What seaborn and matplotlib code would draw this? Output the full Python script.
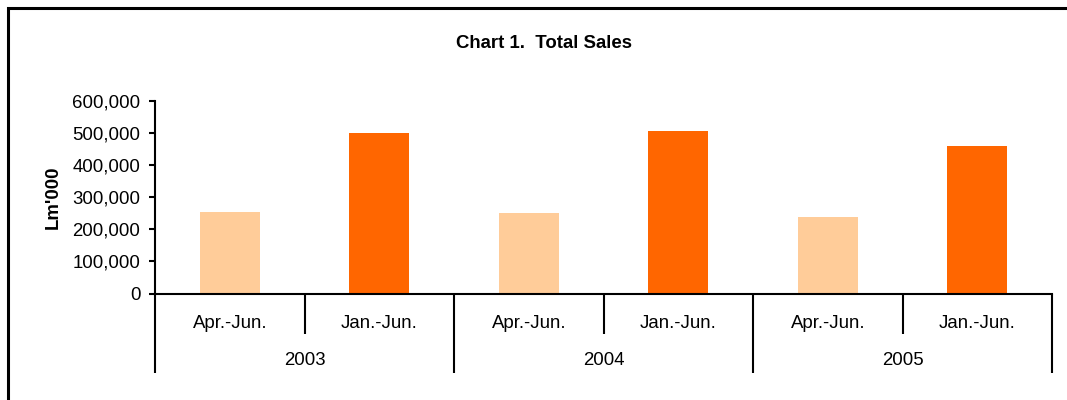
import matplotlib
matplotlib.use("Agg")
import matplotlib.pyplot as plt
import matplotlib.ticker as mticker
import matplotlib.transforms as mtransforms
from matplotlib.patches import Rectangle
import pandas as pd
import seaborn as sns

years = ["2003", "2004", "2005"]
periods = ["Apr.-Jun.", "Jan.-Jun."]
sales_apr_jun = [253000, 250000, 238000]
sales_jan_jun = [499000, 505000, 458000]
colors = {"Apr.-Jun.": "#FFCC99", "Jan.-Jun.": "#FF6600"}

rows = []
for i, y in enumerate(years):
    rows.append({"key": f"{y} {periods[0]}", "year": y, "period": periods[0], "value": sales_apr_jun[i]})
    rows.append({"key": f"{y} {periods[1]}", "year": y, "period": periods[1], "value": sales_jan_jun[i]})
df = pd.DataFrame(rows)

sns.set_style("white")
plt.rcParams["font.family"] = ["Liberation Sans", "DejaVu Sans"]
FS = 13.4

fig = plt.figure(figsize=(10.67, 4.0), dpi=100)
ax = fig.add_axes([155 / 1067, 1 - 293.5 / 400, (1052 - 155) / 1067, (293.5 - 100.7) / 400])

sns.barplot(data=df, x="key", y="value", hue="period", order=list(df["key"]),
            palette=colors, dodge=False, width=0.4, ax=ax, legend=False,
            saturation=1, edgecolor="none", linewidth=0)

n = len(df)
ax.set_xlim(-0.5, n - 0.5)
ax.set_ylim(0, 600000)
ax.yaxis.set_major_locator(mticker.MultipleLocator(100000))
ax.yaxis.set_major_formatter(mticker.FuncFormatter(lambda v, p: f"{int(v):,}"))
ax.set_xticks([])
ax.set_xlabel("")
ax.set_ylabel("")
for s in ["top", "right"]:
    ax.spines[s].set_visible(False)
for s in ["left", "bottom"]:
    ax.spines[s].set_color("black")
    ax.spines[s].set_linewidth(1.5)
ax.tick_params(axis="y", direction="out", length=4, width=1.5, color="black",
               labelsize=FS, pad=6.5, labelcolor="black", left=True)

trans = mtransforms.blended_transform_factory(ax.transData, ax.transAxes)
axh = 293.5 - 100.7
# separators
for b in range(n + 1):
    x = b - 0.5
    depth = 79 / axh if b % 2 == 0 else 40 / axh
    ax.plot([x, x], [0, -depth], transform=trans, color="black", lw=1.5,
            clip_on=False, solid_capstyle="butt")
# sub labels
for i, row in df.iterrows():
    ax.text(i, -(328 - 293.5) / axh, row["period"], transform=trans,
            ha="center", va="baseline", fontsize=FS, color="black")
# year labels
for j, y in enumerate(years):
    ax.text(2 * j + 0.5, -(365 - 293.5) / axh, y, transform=trans,
            ha="center", va="baseline", fontsize=FS, color="black")

fig.text(544 / 1067, 1 - 48 / 400, "Chart 1.  Total Sales", ha="center",
         va="baseline", fontsize=FS, fontweight="bold", color="black")
fig.text(53 / 1067, 1 - 197.5 / 400, "Lm'000", rotation=90, ha="center",
         va="center", fontsize=FS, fontweight="bold", color="black")

fig.patches.append(Rectangle((8 / 1067, -0.1), 1.2, 1.1 - 8 / 400,
                             transform=fig.transFigure, fill=False,
                             edgecolor="black", linewidth=2.2))

fig.savefig("out.png", dpi=100)
